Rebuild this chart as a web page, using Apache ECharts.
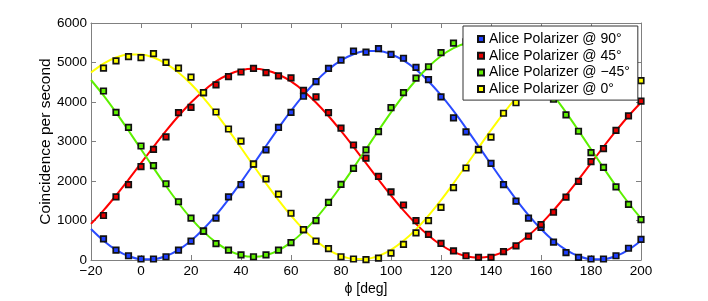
<!DOCTYPE html>
<html><head><meta charset="utf-8">
<script src="https://cdn.jsdelivr.net/npm/echarts@6/dist/echarts.min.js"></script>
<style>html,body{margin:0;padding:0;background:#fff}#c{width:708px;height:301px}</style>
</head><body><div id="c"></div>
<script>
// measured angles (deg)
const phiData = [-15,-10,-5,0,5,10,15,20,25,30,35,40,45,50,55,60,65,70,75,80,85,90,95,100,105,110,115,120,125,130,135,140,145,150,155,160,165,170,175,180,185,190,195,200];
// fit curve sample angles (deg)
const phiFit = [-20,-15,-10,-5,0,5,10,15,20,25,30,35,40,45,50,55,60,65,70,75,80,85,90,95,100,105,110,115,120,125,130,135,140,145,150,155,160,165,170,175,180,185,190,195,200];

const seriesNames = ['Alice Polarizer @ 90°','Alice Polarizer @ 45°','Alice Polarizer @ \u221245°','Alice Polarizer @ 0°'];

// measured coincidences per second
const pts90 = [537,249,107,25,25,82,249,480,729,1060,1600,1906,2430,2786,3358,3739,4145,4518,4850,5058,5290,5265,5349,5207,5108,4876,4568,4130,3600,3242,2801,2446,1906,1493,1060,828,455,189,65,25,25,107,298,522];
const pts45 = [1127,1600,1906,2363,2801,3117,3732,3864,4237,4436,4643,4760,4851,4743,4660,4610,4295,4130,3732,3341,2911,2578,2115,1724,1393,995,647,423,231,107,65,65,214,356,605,896,1209,1590,1990,2488,2819,3284,3647,4021];
const ptsM45 = [4279,3739,3358,2886,2388,1931,1475,1060,729,413,249,132,82,132,249,438,771,995,1458,1916,2321,2786,3250,3856,4237,4603,4892,5250,5490,5523,5540,5480,5330,5100,4800,4450,4070,3672,3259,2719,2346,1849,1408,1020];
const pts0 = [4859,5041,5150,5125,5225,5001,4859,4628,4237,3747,3317,3010,2428,2055,1667,1184,771,480,289,82,25,10,50,174,398,687,995,1334,1831,2329,2786,3110,3715,3981,4400,4700,4950,5100,5180,5200,5130,4980,4760,4543];

// fitted curves
const fit90 = [784,488,258,100,20,20,100,258,488,784,1138,1537,1970,2424,2886,3340,3773,4172,4526,4822,5052,5210,5290,5290,5210,5052,4822,4526,4172,3773,3340,2886,2424,1970,1537,1138,784,488,258,100,20,20,100,258,488];
const fit45 = [914,1255,1633,2035,2450,2865,3267,3645,3986,4281,4520,4696,4804,4840,4804,4696,4520,4281,3986,3645,3267,2865,2450,2035,1633,1255,914,619,380,204,96,60,96,204,380,619,914,1255,1633,2035,2450,2865,3267,3645,3986];
const fitM45 = [4557,4168,3737,3278,2805,2332,1873,1443,1053,718,445,245,121,80,121,245,445,718,1053,1443,1873,2332,2805,3278,3737,4168,4557,4892,5165,5365,5489,5530,5489,5365,5165,4892,4557,4168,3737,3278,2805,2332,1873,1443,1053];
const fit0 = [4745,4972,5127,5205,5205,5127,4972,4745,4454,4106,3714,3288,2842,2388,1942,1516,1124,776,485,258,103,25,25,103,258,485,776,1124,1516,1942,2388,2842,3288,3714,4106,4454,4745,4972,5127,5205,5205,5127,4972,4745,4454];

const xTicks = {min:-20, max:200, interval:20};
const yTicks = {min:0, max:6000, interval:1000};

const lineColors = ['#2a4bff','#ff0000','#5cf000','#ffff00'];
const markColors = ['#2040ff','#e80000','#60f000','#ffff00'];
const ptsAll = [pts90, pts45, ptsM45, pts0];
const fitAll = [fit90, fit45, fitM45, fit0];

const FONT = 'Liberation Sans, Arial, Helvetica, sans-serif';
const minus = v => String(v).replace('-', '\u2212');

const series = [];
for (let i = 0; i < 4; i++) {
  series.push({
    type: 'line', name: 'fit' + i, smooth: 0.3, showSymbol: false, silent: true,
    data: phiFit.map((x, k) => [x, fitAll[i][k]]),
    lineStyle: {color: lineColors[i], width: 2}, z: 2
  });
}
for (let i = 0; i < 4; i++) {
  series.push({
    type: 'scatter', name: seriesNames[i], symbol: 'rect', symbolSize: 5.5,
    data: phiData.map((x, k) => [x, ptsAll[i][k]]),
    itemStyle: {color: markColors[i], borderColor: '#111', borderWidth: 1.7, opacity: 1}, z: 3
  });
}

const axisCommon = {
  axisLine: {show: true, onZero: false, lineStyle: {color: '#808080', width: 1}},
  axisTick: {show: true, inside: true, length: 5, lineStyle: {color: '#808080'}},
  splitLine: {show: false}
};

const chart = echarts.init(document.getElementById('c'), null, {renderer: 'canvas'});
chart.setOption({
  animation: false,
  backgroundColor: '#fff',
  textStyle: {fontFamily: FONT},
  grid: {left: 91, right: 67, top: 23, bottom: 36, containLabel: false},
  xAxis: [
    Object.assign({type: 'value', position: 'bottom', min: xTicks.min, max: xTicks.max, interval: xTicks.interval,
      name: '\u03d5 [deg]', nameLocation: 'middle', nameGap: 22, nameMoveOverlap: false,
      nameTextStyle: {fontSize: 14, color: '#000', fontFamily: FONT},
      axisLabel: {fontSize: 13.5, color: '#000', margin: 4, fontFamily: FONT, formatter: minus}}, axisCommon),
    Object.assign({type: 'value', position: 'top', min: xTicks.min, max: xTicks.max, interval: xTicks.interval,
      axisLabel: {show: false}}, axisCommon)
  ],
  yAxis: [
    Object.assign({type: 'value', position: 'left', min: yTicks.min, max: yTicks.max, interval: yTicks.interval,
      name: 'Coincidence per second', nameLocation: 'middle', nameGap: 37, nameRotate: 90, nameMoveOverlap: false,
      nameTextStyle: {fontSize: 15.5, color: '#000', fontFamily: FONT},
      axisLabel: {fontSize: 13.5, color: '#000', margin: 4, fontFamily: FONT, formatter: v => String(v)}}, axisCommon),
    Object.assign({type: 'value', position: 'right', min: yTicks.min, max: yTicks.max, interval: yTicks.interval,
      axisLabel: {show: false}}, axisCommon)
  ],
  legend: {
    data: seriesNames, orient: 'vertical', left: 463, top: 26,
    backgroundColor: '#fff', borderColor: '#333', borderWidth: 1, borderRadius: 0,
    padding: [6, 8, 4, 14], itemGap: 2.7, itemWidth: 6, itemHeight: 6, itemTextGap: 12,
    icon: 'rect',
    textStyle: {fontSize: 14, color: '#000', fontFamily: FONT, lineHeight: 14},
    selectedMode: false, z: 10
  },
  series: series
});
</script></body></html>
